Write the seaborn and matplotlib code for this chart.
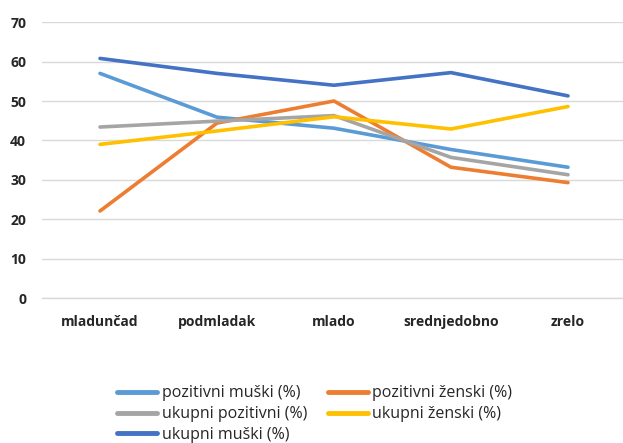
import matplotlib
matplotlib.use("Agg")
import matplotlib.pyplot as plt
import seaborn as sns
import pandas as pd

categories = ["mladunčad", "podmladak", "mlado", "srednjedobno", "zrelo"]
series_names = ["pozitivni muški (%)", "pozitivni ženski (%)", "ukupni pozitivni (%)",
                "ukupni ženski (%)", "ukupni muški (%)"]
pozitivni_muski = [57.0, 45.9, 43.1, 37.7, 33.2]
pozitivni_zenski = [22.1, 44.4, 50.0, 33.2, 29.3]
ukupni_pozitivni = [43.4, 44.9, 46.3, 35.7, 31.3]
ukupni_zenski = [39.0, 42.4, 46.0, 42.9, 48.6]
ukupni_muski = [60.8, 57.0, 54.0, 57.2, 51.3]
colors = ["#5B9BD5", "#ED7D31", "#A5A5A5", "#FFC000", "#4472C4"]

values = [pozitivni_muski, pozitivni_zenski, ukupni_pozitivni, ukupni_zenski, ukupni_muski]
rows = []
for name, vals in zip(series_names, values):
    for c, v in zip(categories, vals):
        rows.append({"kategorija": c, "serija": name, "vrijednost": v})
df = pd.DataFrame(rows)
df["kategorija"] = pd.Categorical(df["kategorija"], categories=categories, ordered=True)

sns.set_theme(style="white")
plt.rcParams["font.family"] = ["Open Sans", "DejaVu Sans"]

fig = plt.figure(figsize=(6.23, 4.43), dpi=100)
ax = fig.add_axes([41.5 / 623, 0.327, 585 / 623, 0.623])

sns.lineplot(data=df, x="kategorija", y="vrijednost", hue="serija", hue_order=series_names,
             palette=colors, linewidth=2.6, ax=ax, sort=False, legend=True)

ax.set_ylim(0, 70)
ax.set_xlim(-0.5, 4.5)
ax.set_yticks(range(0, 71, 10))
ax.yaxis.grid(True, color="#D9D9D9", linewidth=1.0)
ax.set_axisbelow(True)
for s in ["top", "right", "left"]:
    ax.spines[s].set_visible(False)
ax.spines["bottom"].set_color("#D9D9D9")
ax.spines["bottom"].set_linewidth(1.0)
ax.tick_params(axis="both", length=0, labelsize=10, colors="#262626")
ax.tick_params(axis="x", pad=12)
ax.tick_params(axis="y", pad=11)
for lab in ax.get_xticklabels() + ax.get_yticklabels():
    lab.set_fontweight("bold")
ax.set_xlabel("")
ax.set_ylabel("")

handles, labels = ax.get_legend_handles_labels()
ax.get_legend().remove()
order = [0, 2, 4, 1, 3]
leg = fig.legend([handles[i] for i in order], [labels[i] for i in order], ncol=2,
                 loc="center", bbox_to_anchor=(0.505, 0.065), frameon=False,
                 fontsize=11.5, handlelength=2.5, handletextpad=0.3, columnspacing=1.3,
                 labelspacing=0.3, borderaxespad=0, borderpad=0)
for lh in leg.get_lines():
    lh.set_linewidth(3.5)
for t in leg.get_texts():
    t.set_color("#262626")

fig.savefig("out.png", dpi=100)
